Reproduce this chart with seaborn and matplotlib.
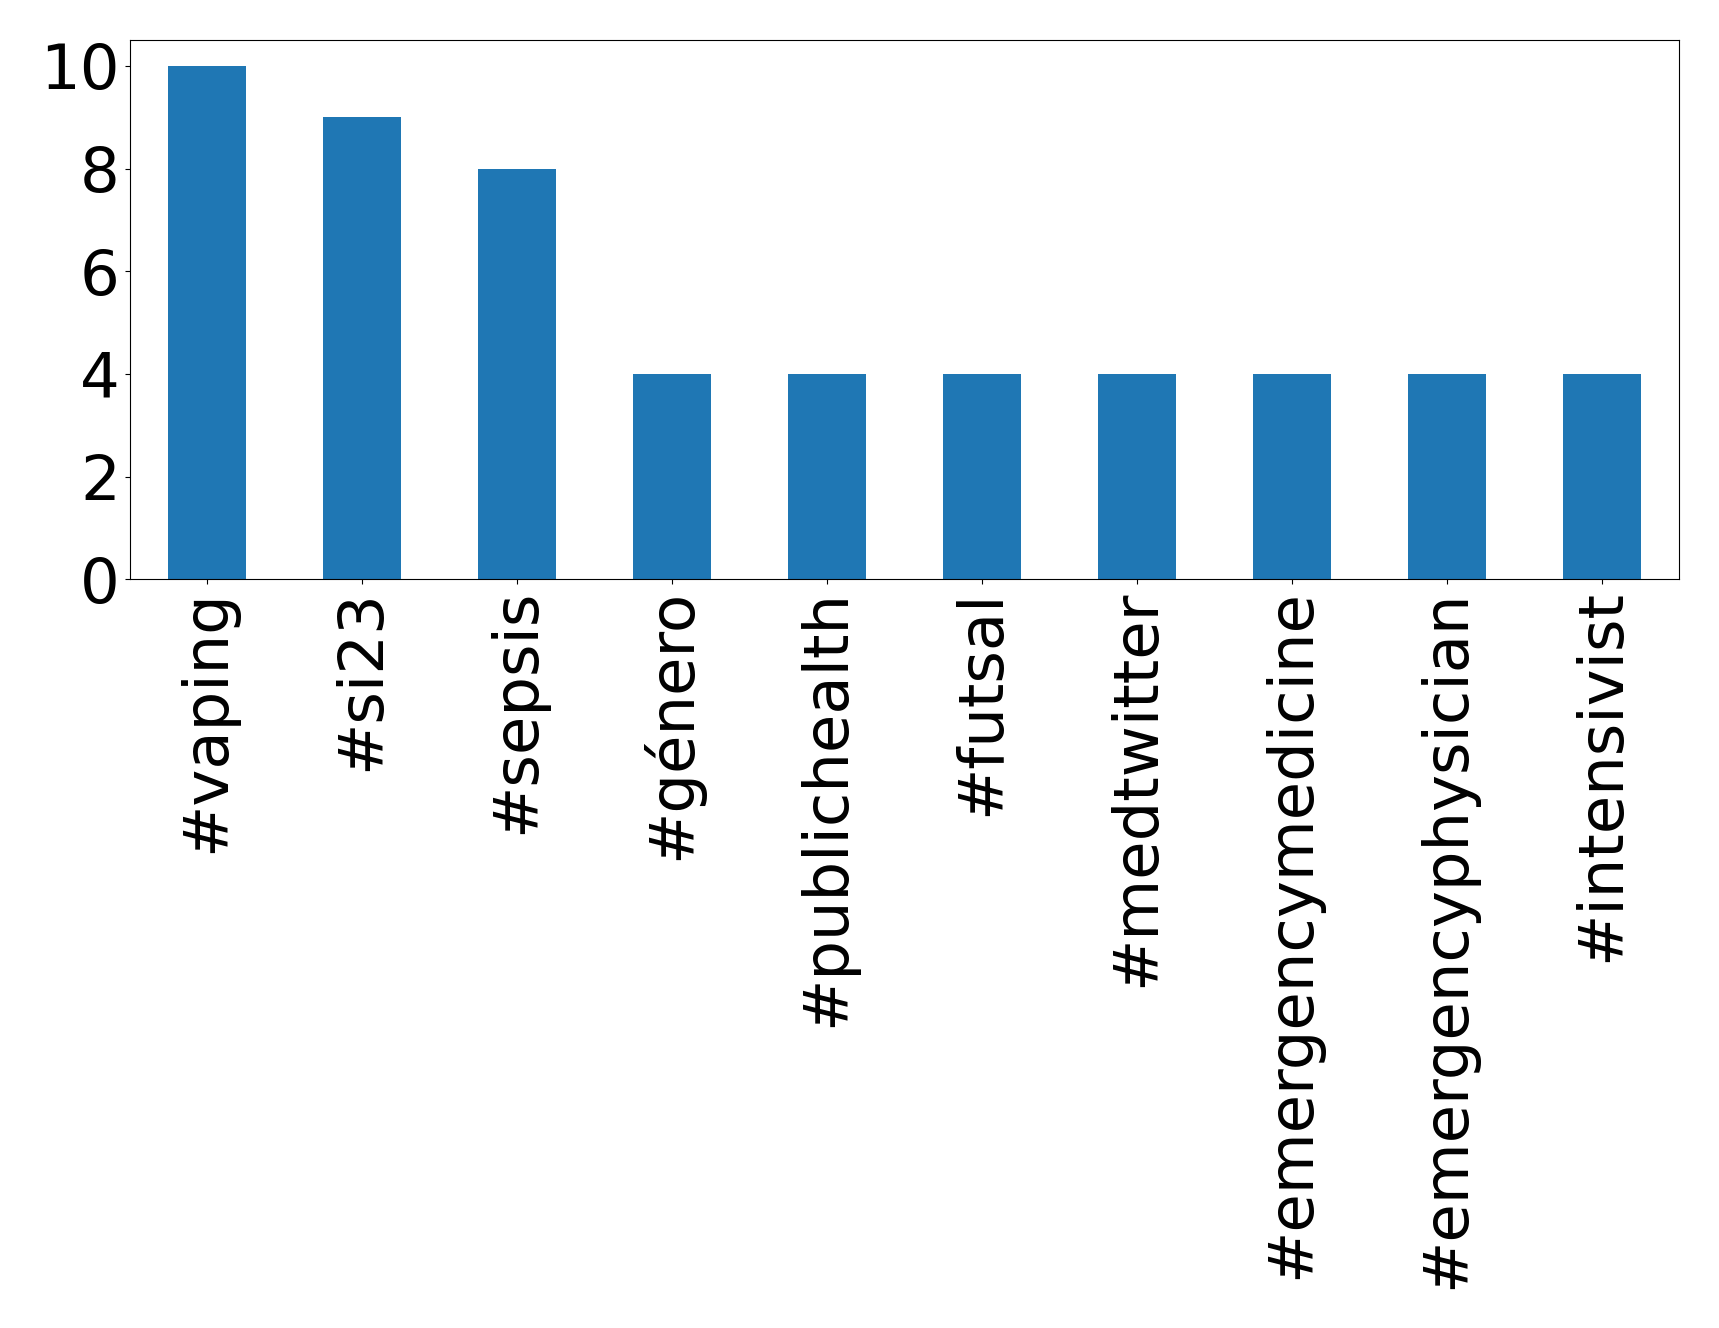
import matplotlib
matplotlib.use("Agg")
import matplotlib.pyplot as plt
import seaborn as sns
import pandas as pd

categories = ["#vaping", "#si23", "#sepsis", "#género", "#publichealth", "#futsal",
              "#medtwitter", "#emergencymedicine", "#emergencyphysician", "#intensivist"]
counts = [10, 9, 8, 4, 4, 4, 4, 4, 4, 4]

df = pd.DataFrame({"hashtag": categories, "count": counts})

fig = plt.figure(figsize=(17.19, 13.28), dpi=100)
W, H = 1719, 1328
ax = fig.add_axes([129.5 / W, 1 - 579.3 / H, 1549.8 / W, 539 / H])
sns.barplot(data=df, x="hashtag", y="count", color="#1f77b4", saturation=1,
            width=0.5, ax=ax, errorbar=None, linewidth=0)
ax.set_xlim(-0.5, 9.5)
ax.set_ylim(0, 10.5)
ax.set_xlabel("")
ax.set_ylabel("")
ax.set_yticks([0, 2, 4, 6, 8, 10])
ax.tick_params(axis="both", labelsize=45)
for lbl in ax.get_xticklabels():
    lbl.set_rotation(90)
for s in ax.spines.values():
    s.set_visible(True)
    s.set_color("black")
fig.savefig("out.png", dpi=100)
